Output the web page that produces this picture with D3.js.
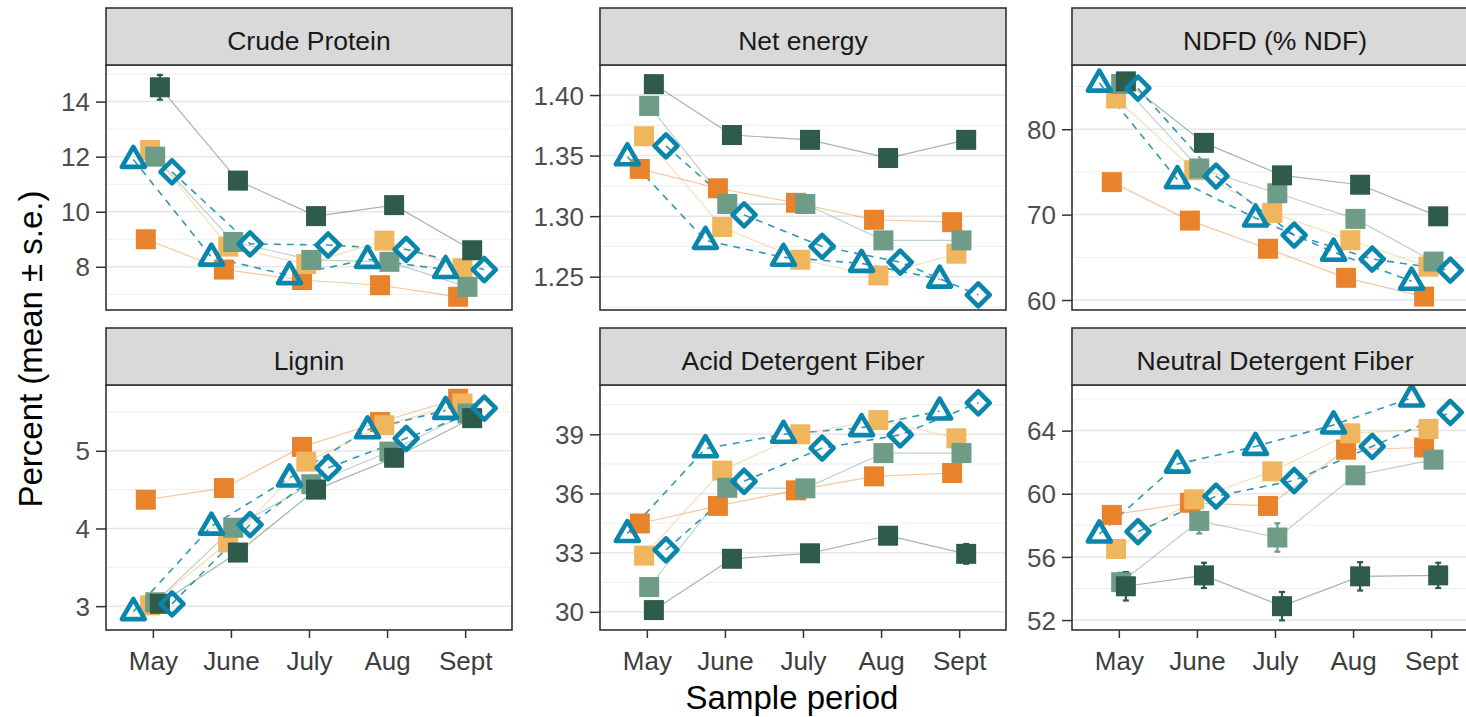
<!DOCTYPE html>
<html>
<head>
<meta charset="utf-8">
<script src="https://cdn.jsdelivr.net/npm/d3@7"></script>
<style>
  body { margin: 0; background: #fff; }
  text { font-family: "Liberation Sans", Arial, sans-serif; }
</style>
</head>
<body>
<svg id="chart" width="1466" height="717"></svg>
<script>
// months on the x axis
const months = ["May", "June", "July", "Aug", "Sept"];

// series order: T = open triangle, O = orange, Y = tan, L = light green, D = dark green, R = open diamond
const seriesKeys = ["T", "O", "Y", "L", "D", "R"];

// values, one array per series per panel
const crudeProtein = {
    T: [11.9, 8.35, 7.68, 8.27, 7.9],
    O: [9.0, 7.9, 7.52, 7.33, 6.91],
    Y: [12.24, 8.73, 8.1, 8.95, 7.95],
    L: [12.0, 8.9, 8.25, 8.18, 7.27],
    D: [14.52, 11.13, 9.84, 10.24, 8.6],
    R: [11.45, 8.83, 8.79, 8.63, 7.9]
};
const netEnergy = {
    T: [1.349, 1.280, 1.266, 1.261, 1.248],
    O: [1.339, 1.323, 1.311, 1.297, 1.295],
    Y: [1.366, 1.291, 1.264, 1.251, 1.269],
    L: [1.391, 1.310, 1.310, 1.280, 1.280],
    D: [1.409, 1.367, 1.363, 1.348, 1.363],
    R: [1.358, 1.301, 1.275, 1.262, 1.235]
};
const ndfd = {
    T: [85.4, 74.1, 69.6, 65.6, 62.2],
    O: [73.8, 69.3, 66.0, 62.6, 60.4],
    Y: [83.6, 75.2, 70.2, 67.0, 63.9],
    L: [85.3, 75.4, 72.5, 69.5, 64.5],
    D: [85.6, 78.4, 74.6, 73.5, 69.8],
    R: [84.8, 74.5, 67.6, 64.8, 63.5]
};
const lignin = {
    T: [2.93, 4.03, 4.65, 5.27, 5.52],
    O: [4.37, 4.52, 5.05, 5.37, 5.67],
    Y: [3.01, 3.82, 4.86, 5.33, 5.61],
    L: [3.05, 4.01, 4.57, 4.99, 5.48],
    D: [3.03, 3.69, 4.50, 4.91, 5.42],
    R: [3.03, 4.05, 4.78, 5.16, 5.55]
};
const adf = {
    T: [33.97, 38.27, 39.0, 39.34, 40.18],
    O: [34.48, 35.37, 36.16, 36.87, 37.04],
    Y: [32.85, 37.16, 39.0, 39.72, 38.8],
    L: [31.26, 36.29, 36.26, 38.05, 38.05],
    D: [30.09, 32.69, 32.97, 33.86, 32.94],
    R: [33.14, 36.62, 38.3, 38.97, 40.6]
};
const ndf = {
    T: [57.45, 61.88, 63.0, 64.36, 66.07],
    O: [58.66, 59.43, 59.23, 62.79, 62.93],
    Y: [56.5, 59.65, 61.42, 63.83, 64.1],
    L: [54.4, 58.28, 57.23, 61.17, 62.16],
    D: [54.14, 54.83, 52.88, 54.77, 54.83],
    R: [57.6, 59.85, 60.84, 63.0, 65.15]
};

// standard errors that stick out of the markers (others are hidden)
const seCrudeProtein = { D: [0.45, 0.2, 0.2, 0.2, 0.2] };
const seAdf = { D: [0.3, 0.2, 0.2, 0.2, 0.5] };
const seNdf = { L: [0.6, 0.8, 0.9, 0.5, 0.5], D: [0.9, 0.8, 0.9, 0.9, 0.8] };

// facet titles, y ticks and y limits per panel
const panelTitles = ["Crude Protein", "Net energy", "NDFD (% NDF)", "Lignin", "Acid Detergent Fiber", "Neutral Detergent Fiber"];
const panelData = [crudeProtein, netEnergy, ndfd, lignin, adf, ndf];
const panelSe = [seCrudeProtein, {}, {}, {}, seAdf, seNdf];
const majorTicks = [
    [8, 10, 12, 14],
    [1.25, 1.30, 1.35, 1.40],
    [60, 70, 80],
    [3, 4, 5],
    [30, 33, 36, 39],
    [52, 56, 60, 64]
];
const minorTicks = [
    [7, 9, 11, 13, 15],
    [1.225, 1.275, 1.325, 1.375],
    [65, 75, 85],
    [3.5, 4.5, 5.5],
    [31.5, 34.5, 37.5, 40.5],
    [54, 58, 62, 66]
];
const tickFormats = [d3.format("d"), d3.format(".2f"), d3.format("d"), d3.format("d"), d3.format("d"), d3.format("d")];
const yLimits = [
    [6.43, 15.33],
    [1.2225, 1.4248],
    [58.83, 87.52],
    [2.693, 5.847],
    [29.08, 41.5],
    [51.37, 66.89]
];

// styling
const colors = { T: "#0a86ad", O: "#e8832c", Y: "#f0b65e", L: "#6e9c87", D: "#2f5b4a", R: "#0a86ad" };
const dodge = { T: -0.25, O: -0.09, Y: -0.035, L: 0.03, D: 0.09, R: 0.245 };
const font = "'Liberation Sans', Arial, sans-serif";
const svg = d3.select("#chart");
svg.append("rect").attr("width", 1466).attr("height", 717).attr("fill", "#fff");

const panelW = 406;
const colX = [106, 600, 1072];
const rowStrip = [8, 328];
const stripH = 57;
const plotH = 245;

const x = d3.scalePoint().domain(months).range([0, panelW]).padding(0.6);

svg.append("defs").append("clipPath").attr("id", "panelClip")
    .append("rect").attr("x", -20).attr("y", -20).attr("width", panelW + 40).attr("height", plotH + 40);

panelTitles.forEach((title, p) => {
    const col = p % 3, row = Math.floor(p / 3);
    const left = colX[col];
    const top = rowStrip[row] + stripH;
    const y = d3.scaleLinear().domain(yLimits[p]).range([plotH, 0]);

    const g = svg.append("g").attr("transform", `translate(${left},${top})`);

    // grid
    g.selectAll("line.minor").data(minorTicks[p].filter(v => v > yLimits[p][0] && v < yLimits[p][1]))
        .join("line").attr("class", "minor")
        .attr("x1", 0).attr("x2", panelW).attr("y1", d => y(d)).attr("y2", d => y(d))
        .attr("stroke", "#ececec").attr("stroke-width", 0.9);
    g.selectAll("line.major").data(majorTicks[p])
        .join("line").attr("class", "major")
        .attr("x1", 0).attr("x2", panelW).attr("y1", d => y(d)).attr("y2", d => y(d))
        .attr("stroke", "#e6e6e6").attr("stroke-width", 1.5);

    const data = panelData[p];
    const se = panelSe[p];
    const px = (k, i) => x(months[i]) + dodge[k] * x.step();

    const plot = g.append("g").attr("clip-path", "url(#panelClip)");

    // lines
    const line = k => d3.line().x((d, i) => px(k, i)).y(d => y(d));
    seriesKeys.forEach(k => {
        const open = (k === "T" || k === "R");
        plot.append("path")
            .attr("d", line(k)(data[k]))
            .attr("fill", "none")
            .attr("stroke", colors[k])
            .attr("stroke-width", open ? 1.6 : 1.2)
            .attr("stroke-opacity", open ? 0.85 : 0.45)
            .attr("stroke-dasharray", open ? "7,6" : null);
    });

    // error bars
    Object.keys(se).forEach(k => {
        const bars = data[k].map((v, i) => ({ v, e: se[k][i], i }));
        const eb = plot.append("g").attr("stroke", colors[k]).attr("stroke-width", 2.2);
        eb.selectAll("line.v").data(bars).join("line").attr("class", "v")
            .attr("x1", d => px(k, d.i)).attr("x2", d => px(k, d.i))
            .attr("y1", d => y(d.v - d.e)).attr("y2", d => y(d.v + d.e));
        eb.selectAll("line.c1").data(bars).join("line").attr("class", "c1")
            .attr("x1", d => px(k, d.i) - 3).attr("x2", d => px(k, d.i) + 3)
            .attr("y1", d => y(d.v - d.e)).attr("y2", d => y(d.v - d.e));
        eb.selectAll("line.c2").data(bars).join("line").attr("class", "c2")
            .attr("x1", d => px(k, d.i) - 3).attr("x2", d => px(k, d.i) + 3)
            .attr("y1", d => y(d.v + d.e)).attr("y2", d => y(d.v + d.e));
    });

    // points: squares first, then triangles and diamonds
    ["O", "Y", "L", "D"].forEach(k => {
        plot.selectAll(null).data(data[k]).join("rect")
            .attr("x", (d, i) => px(k, i) - 10)
            .attr("y", d => y(d) - 10)
            .attr("width", 20).attr("height", 20)
            .attr("fill", colors[k]);
    });
    const tri = "M0,-12.5L11.5,7.5L-11.5,7.5Z";
    const dia = "M0,-11.5L11.5,0L0,11.5L-11.5,0Z";
    [["T", tri], ["R", dia]].forEach(([k, shape]) => {
        plot.selectAll(null).data(data[k]).join("path")
            .attr("d", shape)
            .attr("transform", (d, i) => `translate(${px(k, i)},${y(d)})`)
            .attr("fill", "none")
            .attr("stroke", colors[k])
            .attr("stroke-width", 4.6)
            .attr("stroke-linejoin", "round");
    });

    // panel border
    g.append("rect").attr("width", panelW).attr("height", plotH)
        .attr("fill", "none").attr("stroke", "#333").attr("stroke-width", 1.6);

    // strip
    svg.append("rect")
        .attr("x", left).attr("y", rowStrip[row])
        .attr("width", panelW).attr("height", stripH)
        .attr("fill", "#d9d9d9").attr("stroke", "#333").attr("stroke-width", 1.6);
    svg.append("text")
        .attr("x", left + panelW / 2).attr("y", rowStrip[row] + stripH / 2 + 13.5)
        .attr("text-anchor", "middle").attr("font-size", 26.5).attr("fill", "#1a1a1a")
        .text(title);

    // y axis
    const yAxis = g.append("g").call(d3.axisLeft(y).tickValues(majorTicks[p]).tickFormat(tickFormats[p]).tickSize(10).tickPadding(6));
    yAxis.select(".domain").remove();
    yAxis.selectAll(".tick line").attr("stroke", "#333").attr("stroke-width", 1.5);
    yAxis.selectAll(".tick text").attr("font-size", 26).attr("fill", "#4d4d4d")
        .attr("font-family", font).attr("dy", "0.35em");

    // x axis on bottom row only
    if (row === 1) {
        const xAxis = g.append("g").attr("transform", `translate(0,${plotH})`)
            .call(d3.axisBottom(x).tickSize(8).tickPadding(0));
        xAxis.select(".domain").remove();
        xAxis.selectAll(".tick line").attr("stroke", "#333").attr("stroke-width", 1.5);
        xAxis.selectAll(".tick text").attr("font-size", 26).attr("fill", "#3d3d3d")
            .attr("font-family", font).attr("dy", null).attr("y", 40);
    }
});

// axis titles
svg.append("text")
    .attr("x", 792).attr("y", 709)
    .attr("text-anchor", "middle").attr("font-size", 33).attr("fill", "#000")
    .text("Sample period");
svg.append("text")
    .attr("transform", "translate(42,349) rotate(-90)")
    .attr("text-anchor", "middle").attr("font-size", 33).attr("fill", "#000")
    .text("Percent (mean ± s.e.)");
</script>
</body>
</html>
